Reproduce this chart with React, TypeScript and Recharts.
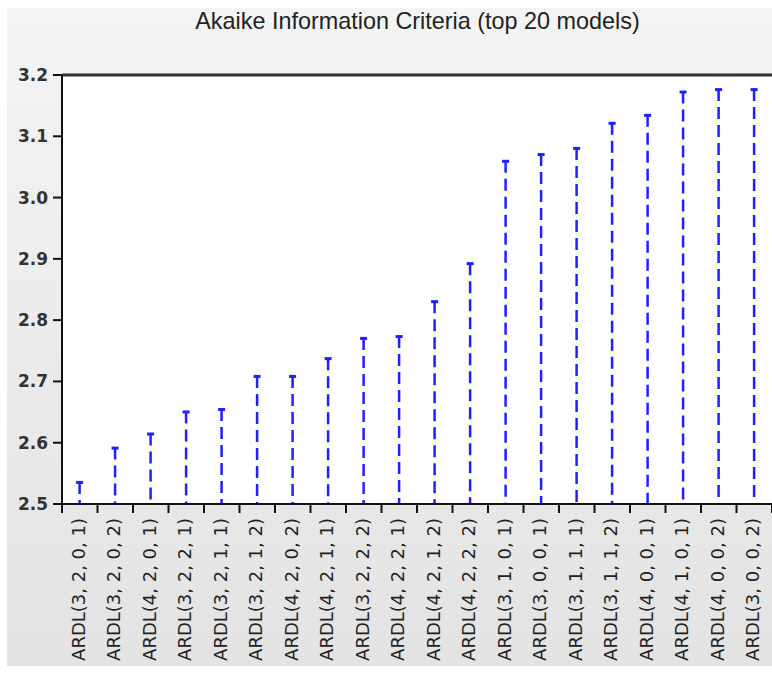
import { BarChart, Bar, XAxis, YAxis, CartesianGrid, ReferenceLine } from "recharts";

const models = [
  "ARDL(3, 2, 0, 1)",
  "ARDL(3, 2, 0, 2)",
  "ARDL(4, 2, 0, 1)",
  "ARDL(3, 2, 2, 1)",
  "ARDL(3, 2, 1, 1)",
  "ARDL(3, 2, 1, 2)",
  "ARDL(4, 2, 0, 2)",
  "ARDL(4, 2, 1, 1)",
  "ARDL(3, 2, 2, 2)",
  "ARDL(4, 2, 2, 1)",
  "ARDL(4, 2, 1, 2)",
  "ARDL(4, 2, 2, 2)",
  "ARDL(3, 1, 0, 1)",
  "ARDL(3, 0, 0, 1)",
  "ARDL(3, 1, 1, 1)",
  "ARDL(3, 1, 1, 2)",
  "ARDL(4, 0, 0, 1)",
  "ARDL(4, 1, 0, 1)",
  "ARDL(4, 0, 0, 2)",
  "ARDL(3, 0, 0, 2)",
];

const aic = [
  2.536, 2.592, 2.615, 2.651, 2.655, 2.709, 2.709, 2.738, 2.771, 2.774,
  2.831, 2.893, 3.06, 3.071, 3.081, 3.122, 3.135, 3.173, 3.177, 3.177,
];

const yTicks = [2.5, 2.6, 2.7, 2.8, 2.9, 3.0, 3.1, 3.2];

const data = models.map((m, i) => ({ model: m, aic: aic[i] }));

const STEM = "#1f1fff";

// dashed stem with a small cap on top
const Stem = (props: any) => {
  const { x, y, width, height } = props;
  const cx = x + width / 2;
  return (
    <g>
      <line
        x1={cx}
        y1={y}
        x2={cx}
        y2={y + height}
        stroke={STEM}
        strokeWidth={2.5}
        strokeDasharray="12 6"
      />
      <rect x={cx - 3.5} y={y - 1} width={7} height={3} fill={STEM} />
    </g>
  );
};

const ModelTick = (props: any) => {
  const { x, y, payload, index, visibleTicksCount } = props;
  const half = payload && payload.offset ? payload.offset : 17.75;
  const top = y - 8; // axis line
  return (
    <g>
      <line x1={x - half} y1={top} x2={x - half} y2={top + 9} stroke="#111" strokeWidth={2} />
      {index === visibleTicksCount - 1 && (
        <line x1={x + half} y1={top} x2={x + half} y2={top + 9} stroke="#111" strokeWidth={2} />
      )}
      <text
        transform={`translate(${x + 5},${top + 14}) rotate(-90)`}
        textAnchor="end"
        fontFamily="DejaVu Sans"
        fontSize={18}
        fill="#222"
      >
        {payload.value}
      </text>
    </g>
  );
};

export default function App() {
  return (
    <div
      style={{
        position: "absolute",
        left: 0,
        top: 0,
        width: 772,
        height: 674,
        background: "#fff",
        overflow: "hidden",
      }}
    >
      <div
        style={{
          position: "absolute",
          left: 7,
          top: 8,
          width: 765,
          height: 658,
          background: "linear-gradient(#f4f4f4, #e3e3e3)",
        }}
      />
      <div
        style={{
          position: "absolute",
          left: 0,
          top: 7,
          width: 835,
          textAlign: "center",
          fontFamily: "Liberation Sans",
          fontSize: 23.4,
          color: "#222",
          lineHeight: "28px",
        }}
      >
        Akaike Information Criteria (top 20 models)
      </div>
      <div style={{ position: "absolute", left: 0, top: 0 }}>
        <BarChart
          width={772}
          height={674}
          data={data}
          margin={{ top: 75, right: 0, bottom: 0, left: 0 }}
          barCategoryGap="20%"
        >
          <CartesianGrid horizontal={false} vertical={false} fill="#fff" />
          <XAxis
            dataKey="model"
            interval={0}
            tickLine={false}
            axisLine={{ stroke: "#111", strokeWidth: 2 }}
            tick={<ModelTick />}
            height={170}
          />
          <YAxis
            domain={[2.5, 3.2]}
            ticks={yTicks}
            allowDataOverflow
            width={62}
            tickSize={9}
            tickMargin={5}
            tickLine={{ stroke: "#111", strokeWidth: 2 }}
            axisLine={{ stroke: "#111", strokeWidth: 2 }}
            tickFormatter={(v: number) => v.toFixed(1)}
            tick={{ fontFamily: "DejaVu Sans", fontSize: 17, fontWeight: "bold", fill: "#333" }}
          />
          <ReferenceLine y={3.2} stroke="#333" strokeWidth={3} />
          <Bar dataKey="aic" shape={<Stem />} isAnimationActive={false} />
        </BarChart>
      </div>
    </div>
  );
}
